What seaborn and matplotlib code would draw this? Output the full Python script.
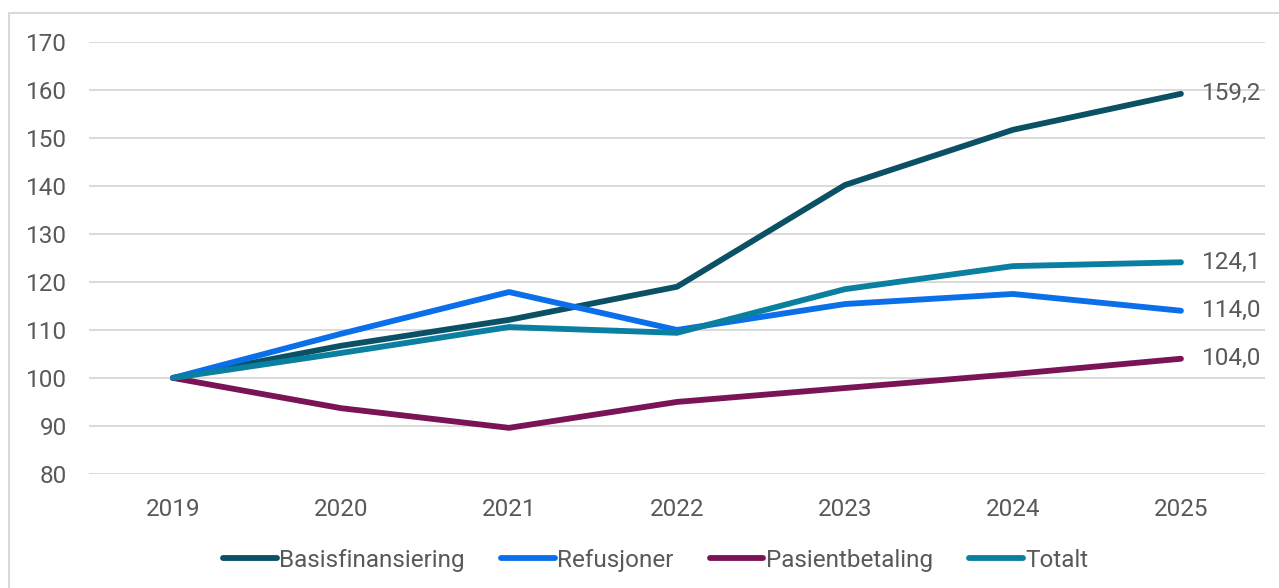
import pandas as pd
import seaborn as sns
import matplotlib.pyplot as plt
from matplotlib.patches import Rectangle

# Data (index, 2019 = 100)
years = ['2019', '2020', '2021', '2022', '2023', '2024', '2025']
basis = [100, 106.7, 112.1, 119.0, 140.2, 151.7, 159.2]
refusjoner = [100, 109.2, 117.9, 110.0, 115.4, 117.5, 114.0]
pasient = [100, 93.7, 89.6, 95.0, 97.9, 100.8, 104.0]
totalt = [100, 105.2, 110.6, 109.4, 118.5, 123.3, 124.1]
series_names = ['Basisfinansiering', 'Refusjoner', 'Pasientbetaling', 'Totalt']
end_labels = ['159,2', '114,0', '104,0', '124,1']
colors = ['#0b5166', '#0a6fe8', '#7a1457', '#0a7fa0']

dados = pd.DataFrame({'year': years * 4,
                      'value': basis + refusjoner + pasient + totalt,
                      'serie': [n for n in series_names for _ in years]})

sns.set_style('white')
plt.rcParams['font.family'] = ['Roboto', 'DejaVu Sans']
text_color = '#595959'
fs = 17.5

fig = plt.figure(figsize=(12.79, 5.88), dpi=100)
ax = fig.add_axes([0.0696, 0.194, 0.9194, 0.7346])

sns.lineplot(data=dados, x='year', y='value', hue='serie', palette=colors,
             linewidth=4.2, sort=False, ax=ax, solid_capstyle='round')

ax.set_xlim(-0.5, 6.5)
ax.set_ylim(80, 170)
ax.set_yticks(range(80, 171, 10))
ax.grid(axis='y', color='#d9d9d9', linewidth=1.4)
ax.set_axisbelow(True)
for s in ax.spines.values():
    s.set_visible(False)
ax.tick_params(axis='both', length=0, labelsize=fs, colors=text_color)
ax.tick_params(axis='y', pad=16)
ax.tick_params(axis='x', pad=17)
ax.set_xlabel('')
ax.set_ylabel('')

# verdier ved siste punkt
last = [basis[-1], refusjoner[-1], pasient[-1], totalt[-1]]
for v, lab in zip(last, end_labels):
    ax.annotate(lab, xy=(6, v), xytext=(15, 0), textcoords='offset points',
                va='center', ha='left', fontsize=fs, color=text_color)

leg = ax.legend(loc='upper center', bbox_to_anchor=(0.482, -0.122), ncol=4,
                frameon=False, fontsize=fs, handlelength=2.2,
                handletextpad=0.1, columnspacing=1.5)
for t in leg.get_texts():
    t.set_color(text_color)
for h in leg.get_lines():
    h.set_linewidth(4.2)
    h.set_solid_capstyle('round')

# ramme rundt figuren
fig.patches.append(Rectangle((9 / 1279, -0.01), 1.2, 1 - 13 / 588 + 0.01,
                             transform=fig.transFigure, fill=False,
                             edgecolor='#d9d9d9', linewidth=1.5))

fig.savefig('out.png', dpi=100)
